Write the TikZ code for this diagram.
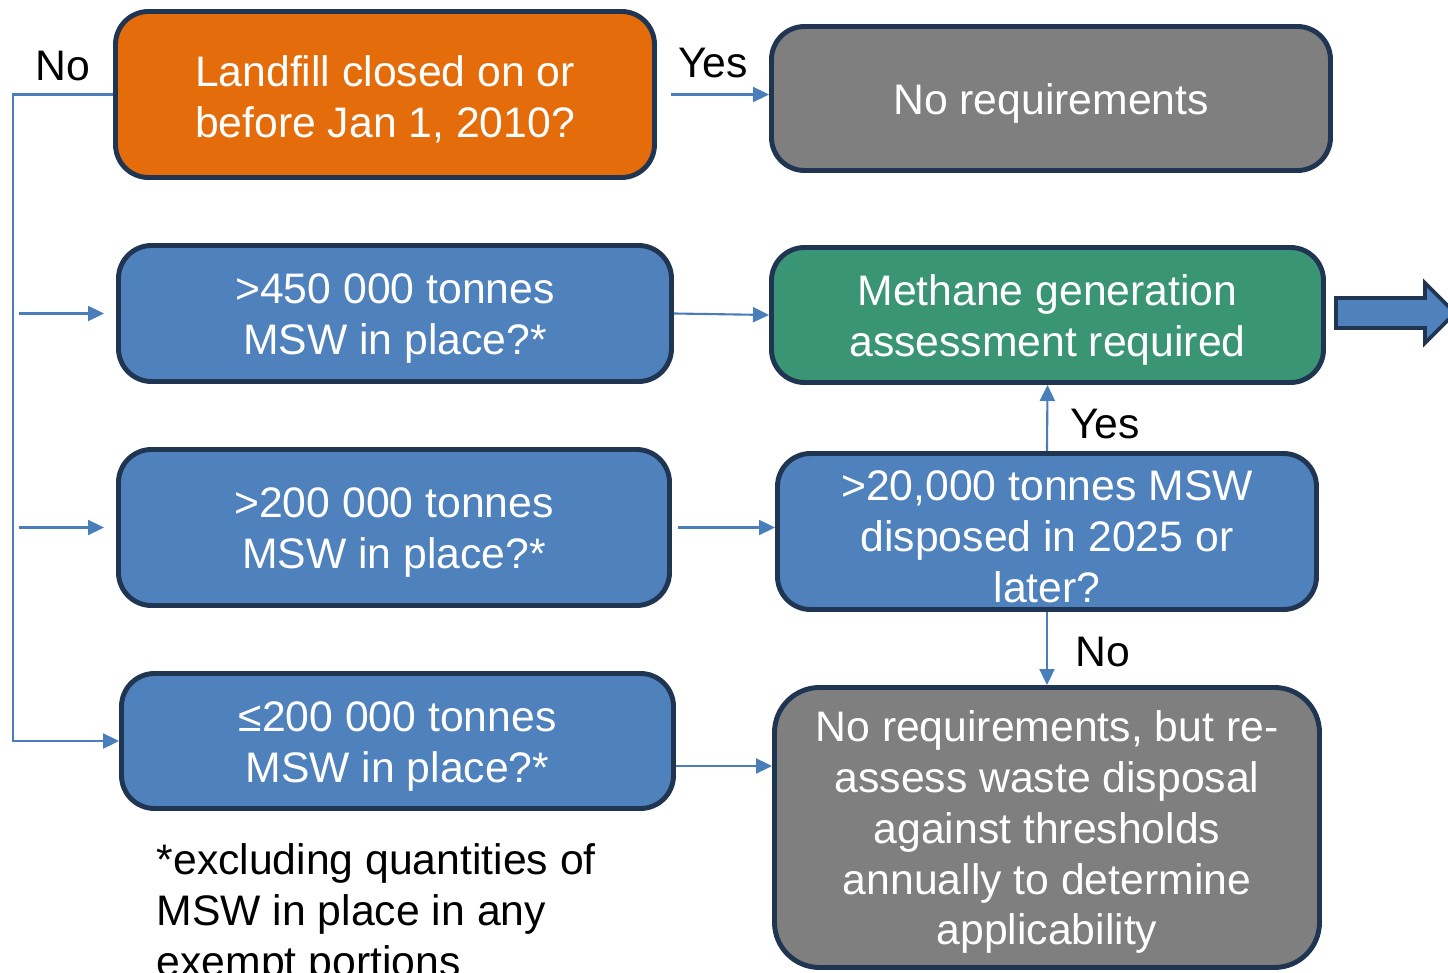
\documentclass[tikz,border=0pt]{standalone}
\usepackage{fontspec}
\setmainfont{Liberation Sans}
\usetikzlibrary{arrows.meta,positioning,shapes}

\definecolor{boxline}{HTML}{1F3552}
\definecolor{qorange}{HTML}{E46C0A}
\definecolor{qgrey}{HTML}{7F7F7F}
\definecolor{qblue}{HTML}{4F81BD}
\definecolor{qgreen}{HTML}{3A9574}
\definecolor{linkblue}{HTML}{4A7EBB}

% a little extra room above the first line in the boxes
\newcommand{\tgap}{\rule{0pt}{0.40cm}}

\tikzset{
  qbox/.style={draw=boxline, line width=1.4pt, rounded corners=0.33cm, text=white,
    align=center, inner sep=0pt, font=\fontsize{12.15}{14.5}\selectfont},
  link/.style={draw=linkblue, line width=0.6pt, -{Triangle[length=0.16cm,width=0.15cm]}},
  lbl/.style={font=\fontsize{12.15}{14.5}\selectfont, inner sep=0pt}
}

\begin{document}
\begin{tikzpicture}
        \useasboundingbox (0,0) rectangle (14.48,-9.73);
        \clip (0,0) rectangle (14.48,-9.73);

        % questions
        \node[qbox, fill=qorange, minimum width=5.39cm, minimum height=1.66cm] (landfill) at (3.85,-0.945) {\tgap Landfill closed on or\\before Jan 1, 2010?};
        \node[qbox, fill=qblue, minimum width=5.53cm, minimum height=1.36cm] (q450) at (3.95,-3.135) {\tgap >450 000 tonnes\\MSW in place?*};
        \node[qbox, fill=qblue, minimum width=5.51cm, minimum height=1.56cm] (q200) at (3.94,-5.275) {\tgap >200 000 tonnes\\MSW in place?*};
        \node[qbox, fill=qblue, minimum width=5.52cm, minimum height=1.35cm] (qle200) at (3.975,-7.41) {\tgap ≤200 000 tonnes\\MSW in place?*};
        \node[qbox, fill=qblue, minimum width=5.39cm, minimum height=1.56cm] (q20k) at (10.47,-5.315) {\tgap >20,000 tonnes MSW\\disposed in 2025 or\\later?};

        % outcomes
        \node[qbox, fill=qgrey, minimum width=5.59cm, minimum height=1.44cm] (noreq) at (10.51,-0.985) {\tgap No requirements};
        \node[qbox, fill=qgreen, minimum width=5.52cm, minimum height=1.35cm] (methane) at (10.475,-3.15) {\tgap Methane generation\\assessment required};
        \node[qbox, fill=qgrey, rounded corners=0.45cm, minimum width=5.45cm, minimum height=2.8cm] (reassess) at (10.47,-8.275) {\tgap No requirements, but re-\\assess waste disposal\\against thresholds\\annually to determine\\applicability};

        % big arrow out of the green box
        \draw[fill=qblue, draw=boxline, line width=1.1pt] (13.36,-2.98) -- (14.25,-2.98) -- (14.25,-2.83)
          -- (14.55,-3.13) -- (14.25,-3.43) -- (14.25,-3.28) -- (13.36,-3.28) -- cycle;

        % branch labels
        \node[lbl] (lblno1) at (0.63,-0.66) {No};
        \node[lbl] (lblyes1) at (7.13,-0.63) {Yes};
        \node[lbl] (lblyes2) at (11.05,-4.24) {Yes};
        \node[lbl] (lblno2) at (11.03,-6.52) {No};

        \node[lbl, anchor=north west, align=left] (footnote) at (1.56,-8.43) {*excluding quantities of\\MSW in place in any\\exempt portions};

        % "no" trunk down the left side
        \coordinate (trunk) at (0.13,0);
        \draw[link] (landfill.west) -| (trunk |- qle200.west) -- (qle200.west);
        \foreach \to in {q450,q200}
        \draw[link] ([xshift=0.06cm]trunk |- \to.west) -- ([xshift=-0.12cm]\to.west);

        \draw[link] ([xshift=0.14cm]landfill.east) -- (noreq.west |- landfill.east);
        \draw[link] (q450.east) -- (methane.west);
        \draw[link] ([xshift=0.06cm]q200.east) -- (q200.east -| q20k.west);
        \draw[link] (q20k.north) -- (methane.south);
        \draw[link] (q20k.south) -- (reassess.north);
        \draw[link] ([yshift=-0.25cm]qle200.east) -- ([yshift=-0.25cm]qle200.east -| reassess.west);
      \end{tikzpicture}
\end{document}
